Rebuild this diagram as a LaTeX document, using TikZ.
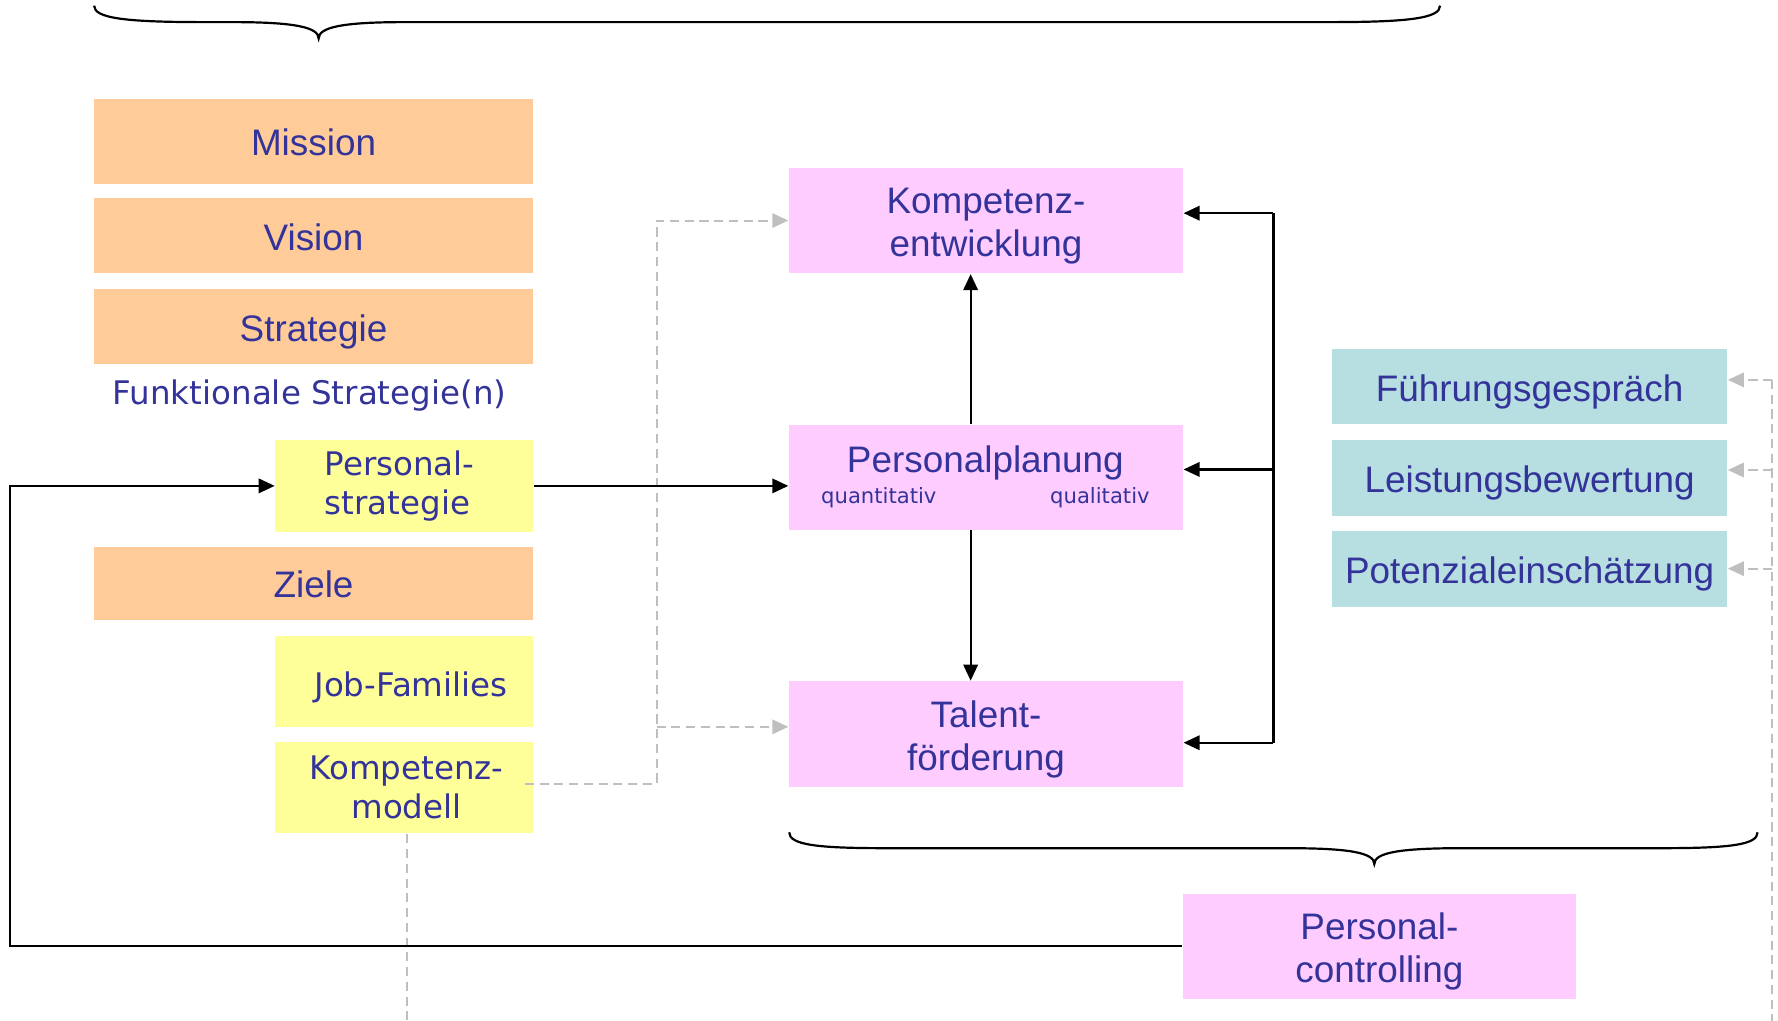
\documentclass[tikz,border=0pt]{standalone}
\usepackage{fontspec}
\setmainfont{Liberation Sans}
\newfontfamily\verd{DejaVu Sans}
\usetikzlibrary{arrows.meta,calc}
\definecolor{txt}{HTML}{333399}
\definecolor{orangebox}{HTML}{FFCC99}
\definecolor{yellowbox}{HTML}{FFFF99}
\definecolor{pinkbox}{HTML}{FFCCFF}
\definecolor{tealbox}{HTML}{B7DEE1}
\definecolor{dashgrey}{HTML}{BFBFBF}
% extra headroom above the first line of a two-line label
\newcommand{\topgap}{\rule{0pt}{0.32cm}}

\begin{document}
\begin{tikzpicture}[x=0.01cm,y=-0.01cm,
  box/.style={inner sep=0pt, text=txt, align=center, font=\fontsize{9.25}{10.8}\selectfont},
  oneline/.style={text height=0.73em, text depth=0pt},
  obox/.style={box, oneline, fill=orangebox, minimum width=3.87cm},
  ybox/.style={box, fill=yellowbox, minimum width=2.27cm, font=\verd\fontsize{8.15}{9.7}\selectfont},
  pbox/.style={box, fill=pinkbox, minimum width=3.47cm, minimum height=0.93cm},
  tbox/.style={box, oneline, fill=tealbox, minimum width=3.48cm, minimum height=0.67cm},
  small/.style={inner sep=0pt, text=txt, font=\verd\fontsize{5.3}{6}\selectfont},
  link/.style={line width=0.55pt, draw=black},
  flow/.style={link, -{Triangle[length=4pt,width=3.6pt]}},
  hint/.style={draw=dashgrey, line width=0.5pt, dash pattern=on 2.3pt off 1.4pt},
  hintarrow/.style={hint, -{Triangle[length=4pt,width=3.6pt,fill=dashgrey,color=dashgrey]}},
  brace/.style={line width=0.55pt, draw=black},
]
\useasboundingbox (0,0) rectangle (1568,900);

% top brace
\draw[brace] (83,5) .. controls (83,16) and (110,19.5) .. (180,19.5)
  -- (205,19.5) .. controls (260,19.5) and (281,24) .. (281,34)
  .. controls (281,24) and (302,19.5) .. (357,19.5)
  -- (1173,19.5) .. controls (1243,19.5) and (1270,16) .. (1270,5);

% strategy column
\node[obox, minimum height=0.75cm] (mission) at (276.5,124.5) {Mission};
\node[obox, minimum height=0.66cm] (vision) at (276.5,208) {Vision};
\node[obox, minimum height=0.66cm] (strategie) at (276.5,288) {Strategie};
\node[inner sep=0pt, text=txt, font=\verd\fontsize{8.15}{9.7}\selectfont] (funkt) at (273,349) {Funktionale Strategie(n)};
\node[ybox, minimum height=0.81cm, align=left] (pstrat) at (356.5,428.5) {Personal-\hspace*{0.08cm}\\strategie};
\node[obox, minimum height=0.65cm] (ziele) at (276.5,514.5) {Ziele};
\node[ybox, oneline, minimum height=0.80cm] (jobfam) at (356.5,601) {\hspace*{0.12cm}Job-Families};
\node[ybox, minimum height=0.81cm] (kmodell) at (356.5,694.5) {\hspace*{0.04cm}Kompetenz-\\\hspace*{0.04cm}modell};

% personnel processes
\node[pbox] (kentw) at (869.5,194.5) {\topgap Kompetenz-\\entwicklung};
\node[pbox, minimum height=0.92cm] (pplan) at (869.5,421) {};
\node[box, oneline] (pplantitle) at (869,403.5) {Personalplanung};
\node[small] (quant) at (775,438.5) {quantitativ};
\node[small] (qual) at (970,438.5) {qualitativ};
\node[pbox] (talent) at (869.5,647.5) {\topgap Talent-\\f\"orderung};
\node[pbox] (pcontr) at (1216.5,834.5) {\topgap Personal-\\controlling};

% appraisal instruments
\node[tbox, minimum height=0.66cm] (fg) at (1349,341) {F\"uhrungsgespr\"ach};
\node[tbox] (lb) at (1349,421.5) {Leistungsbewertung};
\node[tbox] (pe) at (1349,501.5) {Potenzialeinsch\"atzung};

% bottom brace
\draw[brace] (696,734) .. controls (696,745) and (720,748) .. (781,748)
  -- (1135,748) .. controls (1190,748) and (1212,752) .. (1212,762)
  .. controls (1212,752) and (1234,748) .. (1289,748)
  -- (1465,748) .. controls (1526,748) and (1550,745) .. (1550,734);

% dashed links from the competence model
\coordinate (dbus) at (579,0);
\draw[hintarrow] ($(kmodell.east)+(-8,-3.5)$) -| (dbus |- kentw.west) -- (kentw.west);
\draw[hintarrow] ($(dbus |- talent.west)+(0,-6.5)$) -- ($(talent.west)+(0,-6.5)$);
\draw[hint] ($(kmodell.south)+(2.5,0)$) -- ++(0,165);

% dashed links to the appraisal instruments
\coordinate (rbus) at (1563,0);
\draw[hint] ($(rbus |- fg.east)+(0,-6)$) -- (rbus |- 0,900);
\draw[hintarrow] ($(rbus |- fg.east)+(0,-6)$) -- ($(fg.east)+(0,-6)$);
\draw[hintarrow] ($(rbus |- lb.east)+(0,-7)$) -- ($(lb.east)+(0,-7)$);
\draw[hintarrow] (rbus |- pe.east) -- (pe.east);

% main flow
\draw[flow] (pstrat.east) -- (pstrat.east -| pplan.west);
\coordinate (vx) at (856,0);
\draw[flow] (vx |- pplan.north) -- (vx |- kentw.south);
\draw[flow] (vx |- pplan.south) -- (vx |- talent.north);

% feedback bus on the right
\coordinate (b1) at (1123,188);
\coordinate (b2) at (1123,414);
\coordinate (b3) at (1123,655);
\draw[link] (b1) -- (b3);
\draw[flow] (b1) -- (b1 -| kentw.east);
\draw[flow] (b2) -- (b2 -| pplan.east);
\draw[flow] (b3) -- (b3 -| talent.east);

% controlling loop back to the personnel strategy
\coordinate (lx) at (9,0);
\draw[flow] (pcontr.west) -| (lx |- pstrat.west) -- (pstrat.west);
\end{tikzpicture}
\end{document}
